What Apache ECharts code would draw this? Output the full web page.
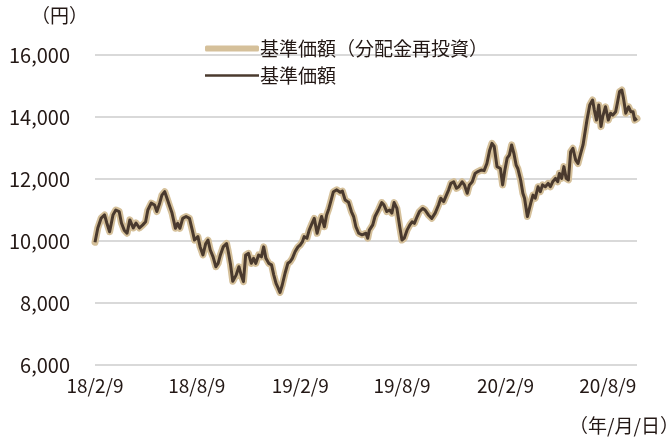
<!DOCTYPE html>
<html>
<head>
<meta charset="utf-8">
<script src="https://cdn.jsdelivr.net/npm/echarts@6/dist/echarts.min.js"></script>
<style>
  html, body { margin: 0; padding: 0; background: #fff; }
  #chart { width: 671px; height: 441px; }
</style>
</head>
<body>
<div id="chart"></div>
<script>
// 基準価額
const dates = [
  '2018-02-09','2018-02-14','2018-02-20','2018-02-26','2018-03-02','2018-03-07','2018-03-13','2018-03-18',
  '2018-03-24','2018-03-28','2018-04-02','2018-04-07','2018-04-12','2018-04-18','2018-04-23','2018-04-29',
  '2018-05-05','2018-05-10','2018-05-14','2018-05-20','2018-05-26','2018-05-30','2018-06-04','2018-06-08',
  '2018-06-13','2018-06-17','2018-06-22','2018-06-26','2018-07-02','2018-07-06','2018-07-10','2018-07-15',
  '2018-07-21','2018-07-27','2018-08-01','2018-08-05','2018-08-11','2018-08-15','2018-08-20','2018-08-25',
  '2018-08-29','2018-09-02','2018-09-07','2018-09-12','2018-09-16','2018-09-20','2018-09-25','2018-10-01',
  '2018-10-04','2018-10-08','2018-10-12','2018-10-18','2018-10-23','2018-10-27','2018-10-31','2018-11-04',
  '2018-11-09','2018-11-14','2018-11-18','2018-11-22','2018-11-27','2018-12-02','2018-12-06','2018-12-10',
  '2018-12-15','2018-12-20','2018-12-24','2018-12-28','2019-01-01','2019-01-04','2019-01-08','2019-01-13',
  '2019-01-18','2019-01-22','2019-01-26','2019-01-31','2019-02-05','2019-02-09','2019-02-13','2019-02-16',
  '2019-02-21','2019-02-25','2019-03-02','2019-03-06','2019-03-11','2019-03-15','2019-03-19','2019-03-24',
  '2019-03-28','2019-04-01','2019-04-05','2019-04-09','2019-04-15','2019-04-21','2019-04-25','2019-04-30',
  '2019-05-06','2019-05-11','2019-05-15','2019-05-19','2019-05-24','2019-05-30','2019-06-02','2019-06-06',
  '2019-06-09','2019-06-12','2019-06-18','2019-06-22','2019-06-28','2019-07-04','2019-07-08','2019-07-13',
  '2019-07-18','2019-07-22','2019-07-26','2019-07-31','2019-08-05','2019-08-09','2019-08-13','2019-08-18',
  '2019-08-23','2019-08-27','2019-08-31','2019-09-05','2019-09-09','2019-09-15','2019-09-19','2019-09-25',
  '2019-10-01','2019-10-07','2019-10-13','2019-10-17','2019-10-22','2019-10-27','2019-10-31','2019-11-04',
  '2019-11-09','2019-11-14','2019-11-18','2019-11-24','2019-11-28','2019-12-03','2019-12-07','2019-12-12',
  '2019-12-17','2019-12-21','2019-12-28','2020-01-02','2020-01-07','2020-01-12','2020-01-16','2020-01-20',
  '2020-01-25','2020-01-28','2020-01-31','2020-02-04','2020-02-08','2020-02-12','2020-02-16','2020-02-20',
  '2020-02-24','2020-02-28','2020-03-02','2020-03-07','2020-03-11','2020-03-14','2020-03-19','2020-03-22',
  '2020-03-25','2020-03-29','2020-04-02','2020-04-07','2020-04-11','2020-04-15','2020-04-20','2020-04-25',
  '2020-04-29','2020-05-03','2020-05-08','2020-05-12','2020-05-15','2020-05-19','2020-05-23','2020-05-27',
  '2020-05-31','2020-06-04','2020-06-08','2020-06-13','2020-06-17','2020-06-21','2020-06-26','2020-06-29',
  '2020-07-03','2020-07-08','2020-07-13','2020-07-16','2020-07-20','2020-07-24','2020-07-28','2020-07-31',
  '2020-08-05','2020-08-10','2020-08-14','2020-08-18','2020-08-23','2020-08-26','2020-08-30','2020-09-03',
  '2020-09-06','2020-09-10','2020-09-15','2020-09-19','2020-09-23','2020-09-26','2020-09-30'
];
const nav = [
  9960,10420,10740,10840,10580,10300,10840,11000,
  10950,10580,10350,10250,10680,10420,10580,10420,
  10520,10620,11000,11220,11160,10950,11220,11480,
  11590,11380,11110,10900,10410,10570,10410,10730,
  10790,10730,10350,10030,10140,9810,9550,9920,
  10030,9710,9490,9170,9280,9550,9810,9920,
  9660,9250,8700,8900,9170,8900,8690,9550,
  9600,9280,9440,9280,9550,9490,9810,9440,
  9280,9230,8900,8630,8470,8340,8580,8960,
  9280,9330,9440,9660,9810,9870,9980,10140,
  10090,10350,10570,10730,10250,10520,10790,10460,
  10840,11050,11320,11590,11650,11570,11610,11320,
  11250,10950,10790,10460,10250,10200,10190,10250,
  10090,10350,10520,10790,11000,11240,11160,10950,
  11000,10900,11240,11050,10460,10030,10090,10350,
  10520,10620,10570,10790,10950,11050,11000,10840,
  10730,10900,11160,11380,11270,11480,11650,11860,
  11910,11700,11750,11910,11810,11540,11810,11910,
  12180,12230,12290,12270,12500,12930,13150,13050,
  12400,12380,12340,11810,12290,12670,12770,13100,
  12830,12450,12340,11970,11540,11380,10790,10730,
  11220,11480,11380,11750,11590,11810,11750,11860,
  11750,11910,12020,11910,12180,12020,12400,12020,
  11970,12880,12990,12610,12500,12770,13100,13150,
  13900,14390,14550,14230,13900,14390,13690,14010,
  14330,13900,14120,14060,14170,14440,14820,14870,
  14600,14120,14330,14170,14170,13900,13950
];
const xTickDates = ['2018-02-09','2018-08-09','2019-02-09','2019-08-09','2020-02-09','2020-08-09'];
const seriesNames = ['基準価額（分配金再投資）', '基準価額'];

const FONT = '"Noto Sans CJK JP", "Noto Sans", sans-serif';
const TEXT = '#231815';
const TAN = '#d5c09a';
const BROWN = '#4a3a2e';
const toTs = s => { const p = s.split('-'); return Date.UTC(+p[0], +p[1] - 1, +p[2]); };
const points = dates.map((d, i) => [toTs(d), nav[i]]);

const legendText = { fontFamily: FONT, fontSize: 19, color: TEXT, padding: [0, 0, 0, -4] };

const chart = echarts.init(document.getElementById('chart'), null, { renderer: 'canvas' });
chart.setOption({
  animation: false,
  backgroundColor: '#fff',
  textStyle: { fontFamily: FONT },
  grid: { left: 95, right: 34, top: 55, bottom: 76 },
  legend: [
    {
      left: 200, top: 34,
      itemWidth: 54, itemHeight: 6,
      textStyle: legendText,
      data: [{ name: seriesNames[0], icon: 'roundRect', itemStyle: { color: TAN } }]
    },
    {
      left: 200, top: 61,
      itemWidth: 54, itemHeight: 2.5,
      textStyle: legendText,
      data: [{ name: seriesNames[1], icon: 'rect', itemStyle: { color: BROWN } }]
    }
  ],
  xAxis: {
    type: 'value',
    min: toTs(dates[0]),
    max: toTs(dates[dates.length - 1]),
    axisLine: { show: false },
    axisTick: { show: false },
    splitLine: { show: false },
    axisLabel: {
      customValues: xTickDates.map(toTs),
      fontFamily: FONT,
      fontSize: 19,
      color: TEXT,
      margin: 11,
      showMinLabel: true,
      showMaxLabel: true,
      hideOverlap: false,
      formatter: v => {
        const d = new Date(v);
        return String(d.getUTCFullYear()).slice(2) + '/' + (d.getUTCMonth() + 1) + '/' + d.getUTCDate();
      }
    }
  },
  yAxis: {
    type: 'value',
    min: 6000,
    max: 16000,
    interval: 2000,
    axisLine: { show: false },
    axisTick: { show: false },
    splitLine: { lineStyle: { color: '#d9d9d9', width: 2 } },
    axisLabel: {
      fontFamily: FONT,
      fontSize: 20,
      color: TEXT,
      margin: 25,
      formatter: v => v.toLocaleString('en-US')
    }
  },
  graphic: [
    { type: 'text', left: 31, top: 6, style: { text: '（円）', font: '19px ' + FONT, fill: TEXT } },
    { type: 'text', left: 569, top: 416, style: { text: '（年/月/日）', font: '19px ' + FONT, fill: TEXT } }
  ],
  series: [
    {
      name: seriesNames[0],
      type: 'line',
      data: points,
      showSymbol: false,
      symbol: 'none',
      color: TAN,
      lineStyle: { color: TAN, width: 7, cap: 'round', join: 'round' },
      z: 2
    },
    {
      name: seriesNames[1],
      type: 'line',
      data: points,
      showSymbol: false,
      symbol: 'none',
      color: BROWN,
      lineStyle: { color: BROWN, width: 3, join: 'round' },
      z: 3
    }
  ]
});
</script>
</body>
</html>
